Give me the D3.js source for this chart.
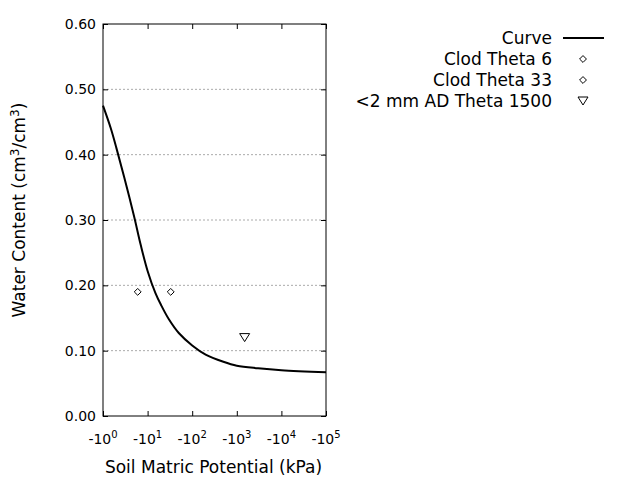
<!DOCTYPE html>
<meta charset="utf-8">
<script src="https://d3js.org/d3.v7.min.js"></script>
<style>body{margin:0;background:#fff}</style>
<div id="chart"></div>
<script>
// curve (suction kPa, water content)
var curveX = [1, 1.5, 2, 3, 5, 7, 10, 15, 20, 30, 50, 100, 200, 500, 1000, 3000, 10000, 100000];
var curveY = [0.475, 0.44, 0.41, 0.365, 0.305, 0.262, 0.222, 0.188, 0.17, 0.148, 0.127, 0.108, 0.094, 0.083, 0.077, 0.073, 0.070, 0.067];
var clod6 = [[6, 0.19]];
var clod33 = [[33, 0.19]];
var ad1500 = [[1500, 0.12]];
var yTicks = [0, 0.1, 0.2, 0.3, 0.4, 0.5, 0.6];
var xTicks = [1, 10, 100, 1000, 10000, 100000];
var legendNames = ["Curve", "Clod Theta 6", "Clod Theta 33", "<2 mm AD Theta 1500"];

var margin = {top: 24, left: 103}, width = 223, height = 392;
var svg = d3.select("#chart").append("svg").attr("width", 640).attr("height", 480)
  .style("font-family", "DejaVu Sans, sans-serif");
var g = svg.append("g").attr("transform", "translate(" + margin.left + "," + margin.top + ")");

var x = d3.scaleLog().domain([1, 100000]).range([0, width]);
var y = d3.scaleLinear().domain([0, 0.6]).range([height, 0]);

// grid
g.selectAll(".grid").data(yTicks.slice(1, -1)).enter().append("line")
  .attr("x1", 0).attr("x2", width).attr("y1", y).attr("y2", y)
  .attr("stroke", "#aaa").attr("stroke-dasharray", "2,2");

// ticks inward on all four sides
g.append("g").attr("transform", "translate(0," + height + ")")
  .call(d3.axisBottom(x).tickValues(xTicks).tickSize(-5).tickFormat(""));
g.append("g").call(d3.axisTop(x).tickValues(xTicks).tickSize(-5).tickFormat(""));
g.append("g").call(d3.axisLeft(y).tickValues(yTicks).tickSize(-5).tickFormat(""));
g.append("g").attr("transform", "translate(" + width + ",0)")
  .call(d3.axisRight(y).tickValues(yTicks).tickSize(-5).tickFormat(""));
g.selectAll(".domain").remove();
g.append("rect").attr("width", width).attr("height", height).attr("fill", "none").attr("stroke", "#000");

// tick labels
g.selectAll(".yl").data(yTicks).enter().append("text")
  .attr("x", -7).attr("y", function(d) { return y(d) + 5; }).attr("text-anchor", "end")
  .attr("font-size", 14).text(function(d) { return d.toFixed(2); });
var xl = g.selectAll(".xl").data(xTicks).enter().append("text")
  .attr("x", x).attr("y", height + 28).attr("text-anchor", "middle").attr("font-size", 14);
xl.append("tspan").text("-10");
xl.append("tspan").attr("dy", -6).attr("font-size", 10).text(function(d) { return Math.round(Math.log10(d)); });

// axis titles
svg.append("text").attr("x", margin.left + width / 2 - 1).attr("y", 473).attr("text-anchor", "middle")
  .attr("font-size", 17).text("Soil Matric Potential (kPa)");
var yt = svg.append("text").attr("transform", "translate(25," + (margin.top + height / 2 - 10) + ") rotate(-90)")
  .attr("text-anchor", "middle").attr("font-size", 17);
yt.append("tspan").text("Water Content (cm");
yt.append("tspan").attr("dy", -6).attr("font-size", 12).text("3");
yt.append("tspan").attr("dy", 6).text("/cm");
yt.append("tspan").attr("dy", -6).attr("font-size", 12).text("3");
yt.append("tspan").attr("dy", 6).text(")");

// curve
var pts = curveX.map(function(v, i) { return [v, curveY[i]]; });
g.append("path").datum(pts).attr("fill", "none").attr("stroke", "#000").attr("stroke-width", 2)
  .attr("d", d3.line().x(function(d) { return x(d[0]); }).y(function(d) { return y(d[1]); }).curve(d3.curveCatmullRom));

var diamond = d3.symbol().type(d3.symbolDiamond2).size(30);
var tri = "M-5,-4L5,-4L0,4Z";
g.selectAll(".c6").data(clod6.concat(clod33)).enter().append("path")
  .attr("transform", function(d) { return "translate(" + x(d[0]) + "," + y(d[1]) + ")"; })
  .attr("d", diamond).attr("fill", "none").attr("stroke", "#000");
g.selectAll(".ad").data(ad1500).enter().append("path")
  .attr("transform", function(d) { return "translate(" + x(d[0]) + "," + y(d[1]) + ")"; })
  .attr("d", tri).attr("fill", "none").attr("stroke", "#000");

// legend
var lg = svg.append("g");
legendNames.forEach(function(n, i) {
  var ly = 38 + i * 21;
  lg.append("text").attr("x", 552).attr("y", ly + 6).attr("text-anchor", "end").attr("font-size", 17).text(n);
  if (i === 0) lg.append("line").attr("x1", 563).attr("x2", 604).attr("y1", ly).attr("y2", ly).attr("stroke", "#000").attr("stroke-width", 2);
  else lg.append("path").attr("transform", "translate(583," + ly + ")").attr("d", i === 3 ? tri : diamond)
    .attr("fill", "none").attr("stroke", "#000");
});
</script>
